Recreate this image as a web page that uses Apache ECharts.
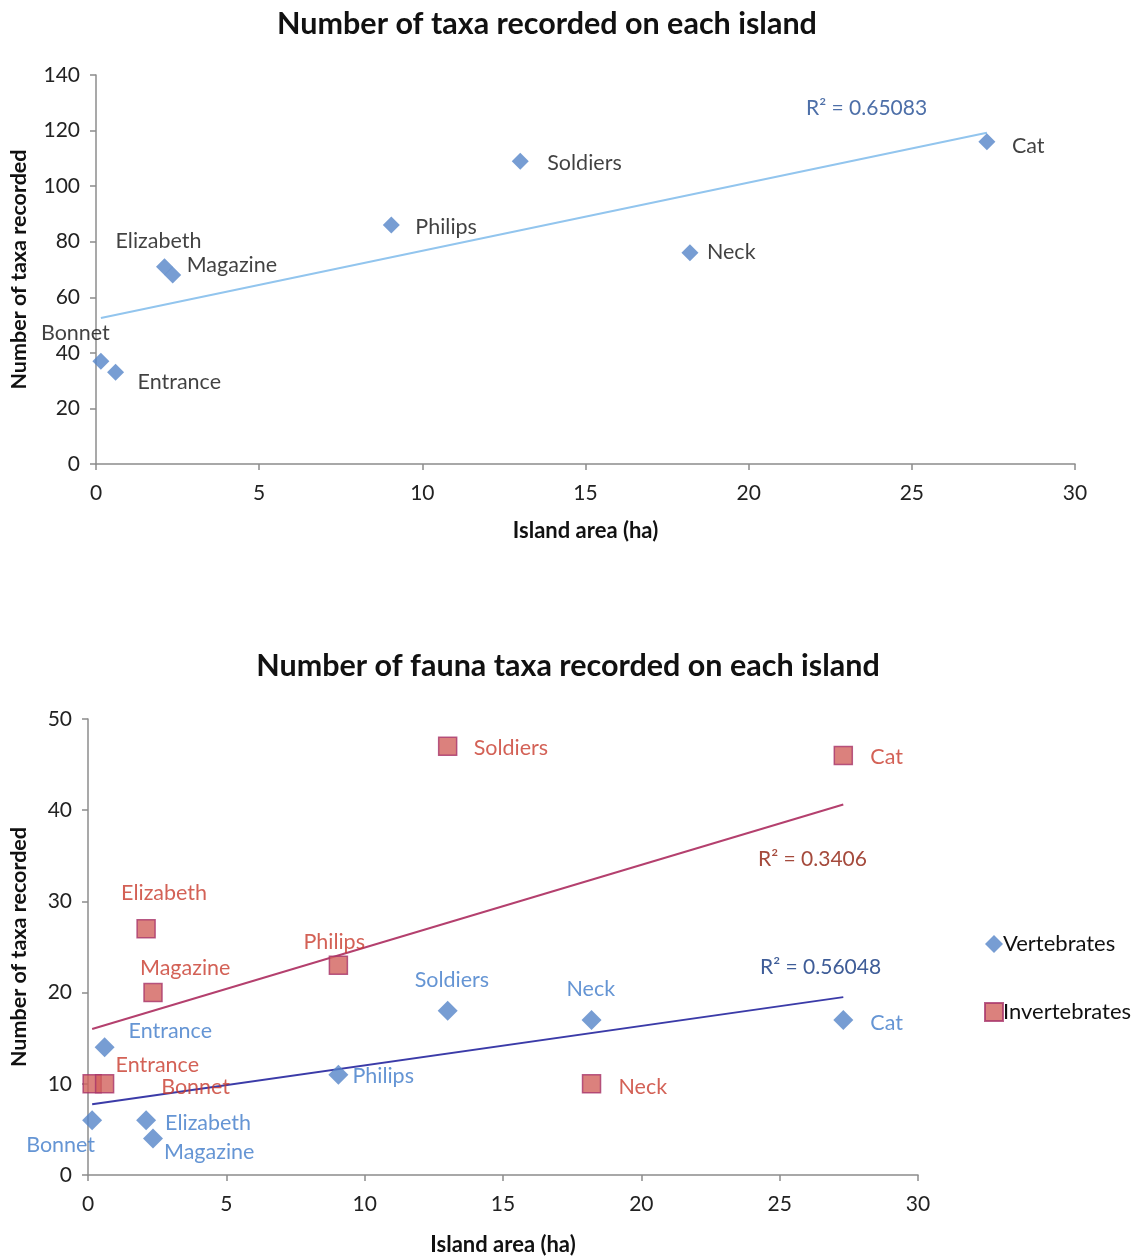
<!DOCTYPE html>
<html>
<head>
<meta charset="utf-8">
<script src="https://cdn.jsdelivr.net/npm/echarts@6/dist/echarts.min.js"></script>
<style>
html,body{margin:0;padding:0;background:#fff;}
#chart{width:1139px;height:1258px;}
</style>
</head>
<body>
<div id="chart"></div>
<script>
// ---- data ----
const islands = ['Bonnet','Entrance','Elizabeth','Magazine','Philips','Soldiers','Neck','Cat'];
const areaHa = [0.15, 0.6, 2.1, 2.35, 9.05, 13, 18.2, 27.3];
const totalTaxa = [37, 33, 71, 68, 86, 109, 76, 116];
const vertebrates = [6, 14, 6, 4, 11, 18, 17, 17];
const invertebrates = [10, 10, 27, 20, 23, 47, 10, 46];
const xTickLabels = [0, 5, 10, 15, 20, 25, 30];
const yTicksTop = [0, 20, 40, 60, 80, 100, 120, 140];
const yTicksBottom = [0, 10, 20, 30, 40, 50];
const r2Top = 'R² = 0.65083';
const r2Invert = 'R² = 0.3406';
const r2Vert = 'R² = 0.56048';

// ---- label placement (layout only) ----
const offTop = {Bonnet:[-60,-28],Entrance:[22,10],Elizabeth:[-49,-26],Magazine:[14,-10],Philips:[24,2],Soldiers:[27,2],Neck:[17,-1],Cat:[25,4]};
const offVert = {Bonnet:[-66,25],Entrance:[24,-16],Elizabeth:[19,3],Magazine:[11,14],Philips:[14,1],Soldiers:[-33,-31],Neck:[-25,-31],Cat:[27,3]};
const offInv = {Bonnet:[69,3],Entrance:[11,-19],Elizabeth:[-25,-36],Magazine:[-13,-25],Philips:[-35,-23],Soldiers:[26,2],Neck:[27,3],Cat:[27,2]};

const FONT = 'Lato, "Open Sans", sans-serif';
const LBL = 21.5;

function pts(ys, offs){
  return islands.map((n,i)=>({name:n, value:[areaHa[i], ys[i]], label:{offset:offs[n]}}));
}
function fit(ys){
  const n = areaHa.length;
  const mx = areaHa.reduce((a,b)=>a+b,0)/n;
  const my = ys.reduce((a,b)=>a+b,0)/n;
  let sxy=0, sxx=0;
  for(let i=0;i<n;i++){sxy+=(areaHa[i]-mx)*(ys[i]-my); sxx+=(areaHa[i]-mx)**2;}
  const b = sxy/sxx, a = my - b*mx;
  const x0 = Math.min(...areaHa), x1 = Math.max(...areaHa);
  return [[x0, a+b*x0],[x1, a+b*x1]];
}

const axisLineStyle = {show:true, lineStyle:{color:'#8c8c8c', width:1.5}};
const tickStyle = {show:true, length:6, inside:false, lineStyle:{color:'#8c8c8c', width:1.5}};
function xAxis(gi, gap){
  return {type:'value', gridIndex:gi, min:0, max:30, interval:5,
    name:'Island area (ha)', nameLocation:'middle', nameGap:gap,
    nameTextStyle:{fontFamily:FONT, fontWeight:'bold', fontSize:22, color:'#111'},
    axisLine:axisLineStyle, axisTick:tickStyle, splitLine:{show:false},
    axisLabel:{fontFamily:FONT, fontSize:21, color:'#222', margin:19,
      formatter:v=>xTickLabels.includes(v)?String(v):''}};
}
function yAxis(gi, max, interval, ticks, gap){
  return {type:'value', gridIndex:gi, min:0, max:max, interval:interval,
    name:'Number of taxa recorded', nameLocation:'middle', nameGap:gap, nameRotate:90,
    nameTextStyle:{fontFamily:FONT, fontWeight:'bold', fontSize:21.5, color:'#111'},
    axisLine:axisLineStyle, axisTick:tickStyle, splitLine:{show:false},
    axisLabel:{fontFamily:FONT, fontSize:21, color:'#222', margin:16,
      formatter:v=>ticks.includes(v)?String(v):''}};
}

const chart = echarts.init(document.getElementById('chart'), null, {renderer:'canvas'});
const option = {
  backgroundColor:'#fff',
  animation:false,
  title:[
    {text:'Number of taxa recorded on each island', left:542, top:4, textAlign:'center',
     textStyle:{fontFamily:FONT, fontWeight:'bold', fontSize:30.5, color:'#111'}},
    {text:'Number of fauna taxa recorded on each island', left:563, top:646, textAlign:'center',
     textStyle:{fontFamily:FONT, fontWeight:'bold', fontSize:30.5, color:'#111'}}
  ],
  grid:[
    {left:95, top:75, width:980, height:389, containLabel:false},
    {left:87, top:719, width:831, height:456, containLabel:false}
  ],
  xAxis:[xAxis(0,56), xAxis(1,59)],
  yAxis:[yAxis(0,140,20,yTicksTop,66), yAxis(1,50,10,yTicksBottom,58)],
  legend:{
    orient:'vertical', left:979, top:928, itemGap:46, itemWidth:18, itemHeight:18,
    data:['Vertebrates','Invertebrates'],
    textStyle:{fontFamily:FONT, fontSize:22, color:'#111', padding:[0,0,0,-5]}
  },
  graphic:[
    {type:'text', left:806, top:98, style:{text:r2Top, fontFamily:FONT, fontSize:21, fill:'#4d6fa8'}},
    {type:'text', left:758, top:849, style:{text:r2Invert, fontFamily:FONT, fontSize:21, fill:'#a54a3c'}},
    {type:'text', left:760, top:957, style:{text:r2Vert, fontFamily:FONT, fontSize:21, fill:'#3f5d98'}}
  ],
  series:[
    {type:'line', xAxisIndex:0, yAxisIndex:0, data:fit(totalTaxa), symbol:'none', silent:true,
     lineStyle:{color:'#92c5ee', width:2}, z:1},
    {type:'scatter', name:'All taxa', xAxisIndex:0, yAxisIndex:0, data:pts(totalTaxa, offTop),
     symbol:'diamond', symbolSize:17, itemStyle:{color:'#5585c8'}, z:3,
     label:{show:true, position:'inside', align:'left', verticalAlign:'middle',
       formatter:'{b}', fontFamily:FONT, fontSize:LBL, color:'#111'}},
    {type:'line', xAxisIndex:1, yAxisIndex:1, data:fit(invertebrates), symbol:'none', silent:true,
     lineStyle:{color:'#b4406e', width:2}, z:1},
    {type:'line', xAxisIndex:1, yAxisIndex:1, data:fit(vertebrates), symbol:'none', silent:true,
     lineStyle:{color:'#3b3ba8', width:2}, z:1},
    {type:'scatter', name:'Vertebrates', xAxisIndex:1, yAxisIndex:1, data:pts(vertebrates, offVert),
     symbol:'diamond', symbolSize:20, itemStyle:{color:'#5585c8'}, z:3,
     label:{show:true, position:'inside', align:'left', verticalAlign:'middle',
       formatter:'{b}', fontFamily:FONT, fontSize:LBL, color:'#3f7bc9'}},
    {type:'scatter', name:'Invertebrates', xAxisIndex:1, yAxisIndex:1, data:pts(invertebrates, offInv),
     symbol:'rect', symbolSize:18, itemStyle:{color:'#d2625c', borderColor:'#a8356a', borderWidth:1.5}, z:4,
     label:{show:true, position:'inside', align:'left', verticalAlign:'middle',
       formatter:'{b}', fontFamily:FONT, fontSize:LBL, color:'#c83a2c'}}
  ]
};
chart.setOption(option);
</script>
</body>
</html>
